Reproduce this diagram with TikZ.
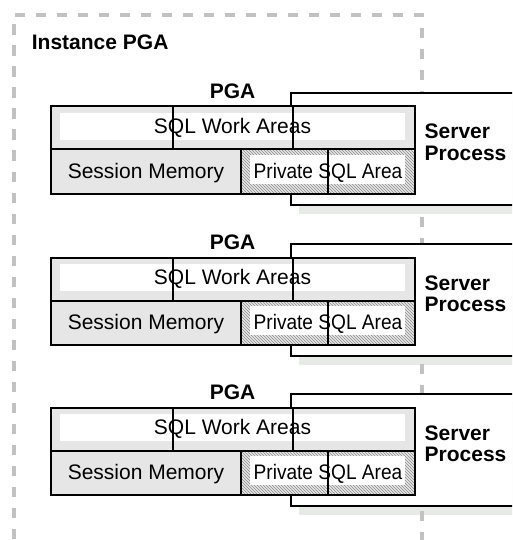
\documentclass[tikz,border=0pt]{standalone}
\usepackage{fontspec}
\usepackage{graphicx}
\setmainfont{Liberation Sans}
\usetikzlibrary{patterns}
\definecolor{dashgray}{HTML}{C2C2C2}
\definecolor{boxgray}{HTML}{E6E6E6}
\definecolor{shadowgray}{HTML}{E8EAE8}
\definecolor{hatchgray}{HTML}{8C8C8C}
\begin{document}
\begin{tikzpicture}[x=1pt,y=-1pt,
  lbl/.style={font=\fontsize{21}{22}\selectfont, inner sep=0pt, anchor=base},
  blbl/.style={font=\fontsize{21}{22}\selectfont\bfseries, inner sep=0pt, anchor=base},
  border/.style={draw=black, line width=2pt},
  divider/.style={draw=black, line width=1.6pt},
  dashedframe/.style={draw=dashgray, line width=4pt, dash pattern=on 10.5pt off 10.5pt},
  whitebox/.style={fill=white},
  shadowbox/.style={fill=shadowgray}]
\useasboundingbox (0,0) rectangle (512,540);
\clip (0,0) rectangle (512,540);

% shadows of server processes (behind everything)
\foreach \o in {0,151,301}{
  \begin{scope}[shift={(0,\o)}]
    \path[shadowbox] (298.5,100) rectangle (540,214);
  \end{scope}
}

% Instance PGA dashed frame
\coordinate (fbl) at (14,560);
\coordinate (ftl) at (14,14.7);
\coordinate (ftr) at (421.5,14.7);
\coordinate (fbr) at (421.5,560);
\draw[dashedframe] (fbl) -- (ftl) -- (ftr) -- (fbr);
\node[blbl, anchor=base west] (inst) at (31.7,50) {Instance PGA};

\foreach \i/\o in {1/0,2/151,3/301}{
  \begin{scope}[shift={(0,\o)}]
    % server process box
    \draw[border, fill=white] (290.5,93) rectangle (540,204.5);
    \node[blbl, anchor=base west] (srv\i) at (424.5,139) {Server};
    \node[blbl, anchor=base west] (proc\i) at (424.5,160.5) {Process};
    % PGA box
    \path[fill=boxgray] (51.2,106.5) rectangle (414.8,194);
    \path[whitebox] (60,113) rectangle (405,140.2);
    \path[fill=boxgray] (241.2,149.5) rectangle (414.8,194);
    \path[pattern=north west lines, pattern color=hatchgray] (241.2,149.5) rectangle (414.8,194);
    \path[whitebox] (249.5,154.8) rectangle (405,184);
    \draw[divider] (173,106.5) -- (173,149.5);
    \draw[divider] (293,106.5) -- (293,149.5);
    \draw[divider] (328,149.5) -- (328,194);
    \draw[border] (51.2,149.5) -- (414.8,149.5);
    \draw[border] (241.2,149.5) -- (241.2,194);
    \draw[border] (51.2,106.5) rectangle (414.8,194);
    \node[blbl] (pga\i) at (232.5,98.4) {PGA};
    \node[lbl] (sql\i) at (232.5,133.4) {SQL Work Areas};
    \node[lbl] (sess\i) at (146,178.4) {Session Memory};
    \node[lbl] (priv\i) at (328,178.4) {\scalebox{0.91}[1]{Private SQL Area}};
  \end{scope}
}
\end{tikzpicture}
\end{document}
